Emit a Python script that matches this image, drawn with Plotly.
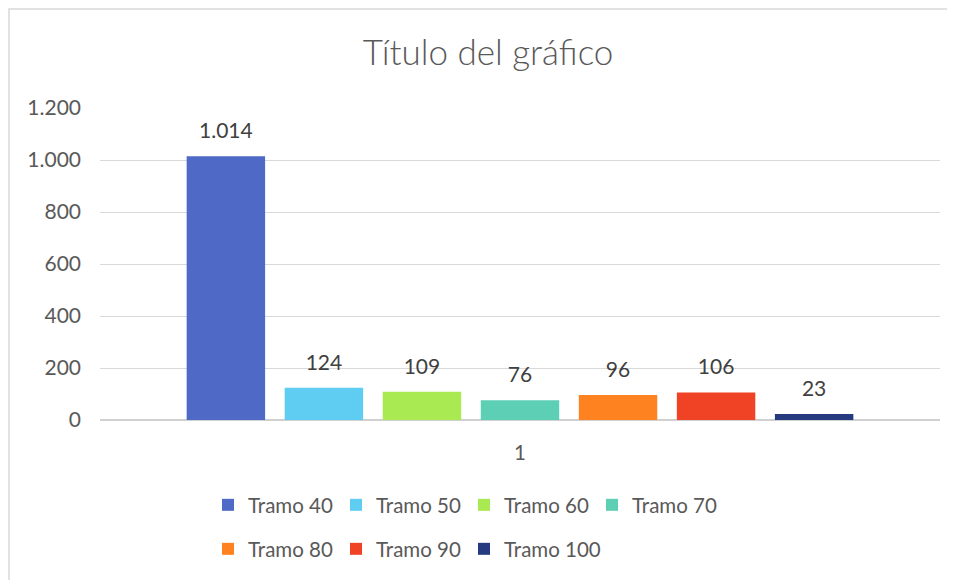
import plotly.graph_objects as go

categories = ["1"]
series_names = ["Tramo 40", "Tramo 50", "Tramo 60", "Tramo 70", "Tramo 80", "Tramo 90", "Tramo 100"]
series_values = [1014, 124, 109, 76, 96, 106, 23]
series_colors = ["#4F69C6", "#5FCDF2", "#A9EA52", "#5DCFB4", "#FF8221", "#F04325", "#263A80"]
y_ticks = [0, 200, 400, 600, 800, 1000, 1200]

FONT = "Lato"
GRAY = "#595959"

fig = go.Figure()
for i, (name, val, col) in enumerate(zip(series_names, series_values, series_colors)):
    fig.add_trace(go.Bar(
        x=categories, y=[val], name=name, offsetgroup=str(i),
        marker=dict(color=col, line=dict(width=0)),
        legend="legend" if i < 4 else "legend2",
    ))
for i, (name, val) in enumerate(zip(series_names, series_values)):
    fig.add_trace(go.Scatter(
        x=categories, y=[val], offsetgroup=str(i), mode="markers+text",
        marker=dict(size=19, color="rgba(0,0,0,0)"),
        text=[val], texttemplate="%{y:,}", textposition="top center",
        textfont=dict(family=FONT, size=21, color="#404040"),
        showlegend=False, cliponaxis=False, hoverinfo="skip",
    ))
# spacer entry so the second legend row is not clipped
fig.add_trace(go.Scatter(
    x=[None], y=[None], name=" ", offsetgroup="6", mode="markers",
    marker=dict(color="rgba(0,0,0,0)"), legend="legend2", showlegend=True,
    hoverinfo="skip",
))

W, H = 947, 572
L, R, T, B = 92, 15, 100, 160
PW, PH = W - L - R, H - T - B

fig.update_layout(
    width=W, height=H,
    margin=dict(l=L, r=R, t=T, b=B),
    paper_bgcolor="white", plot_bgcolor="white",
    separators=",.",
    barmode="group", bargap=0.183, bargroupgap=0.2,
    scattermode="group", scattergap=0.183,
    font=dict(family=FONT, color=GRAY),
    title=dict(text="Título del gráfico", x=480 / W, xref="container", xanchor="center",
               y=1 - 45 / H, yref="container", yanchor="middle",
               font=dict(family=FONT, size=35, color=GRAY, weight=300)),
    xaxis=dict(type="category", showgrid=False, showline=False, ticks="",
               tickfont=dict(family=FONT, size=20.5, color=GRAY), ticklabelstandoff=18),
    yaxis=dict(range=[0, 1200], tickvals=y_ticks, separatethousands=True,
               showgrid=True, gridcolor="#D9D9D9", gridwidth=1,
               zeroline=True, zerolinecolor="#D0D0D0", zerolinewidth=2,
               showline=False, ticks="",
               tickfont=dict(family=FONT, size=21, color=GRAY), ticklabelstandoff=18),
    legend=dict(orientation="h", xref="container", yref="container",
                x=200 / W, xanchor="left", y=1 - 497 / H, yanchor="middle",
                entrywidth=83, font=dict(family=FONT, size=20.5, color=GRAY),
                bgcolor="rgba(0,0,0,0)"),
    legend2=dict(orientation="h", xref="container", yref="container",
                 x=200 / W, xanchor="left", y=1 - 541 / H, yanchor="middle",
                 entrywidth=83, font=dict(family=FONT, size=20.5, color=GRAY),
                 bgcolor="rgba(0,0,0,0)"),
    shapes=[dict(type="rect", xref="paper", yref="paper",
                 x0=(1 - L) / PW, x1=(W + 20 - L) / PW,
                 y0=(PH + T - H - 30) / PH, y1=(PH + T - 1) / PH,
                 line=dict(color="#D9D9D9", width=1.5), fillcolor="rgba(0,0,0,0)",
                 layer="below")],
)

fig.write_html("out.html")
